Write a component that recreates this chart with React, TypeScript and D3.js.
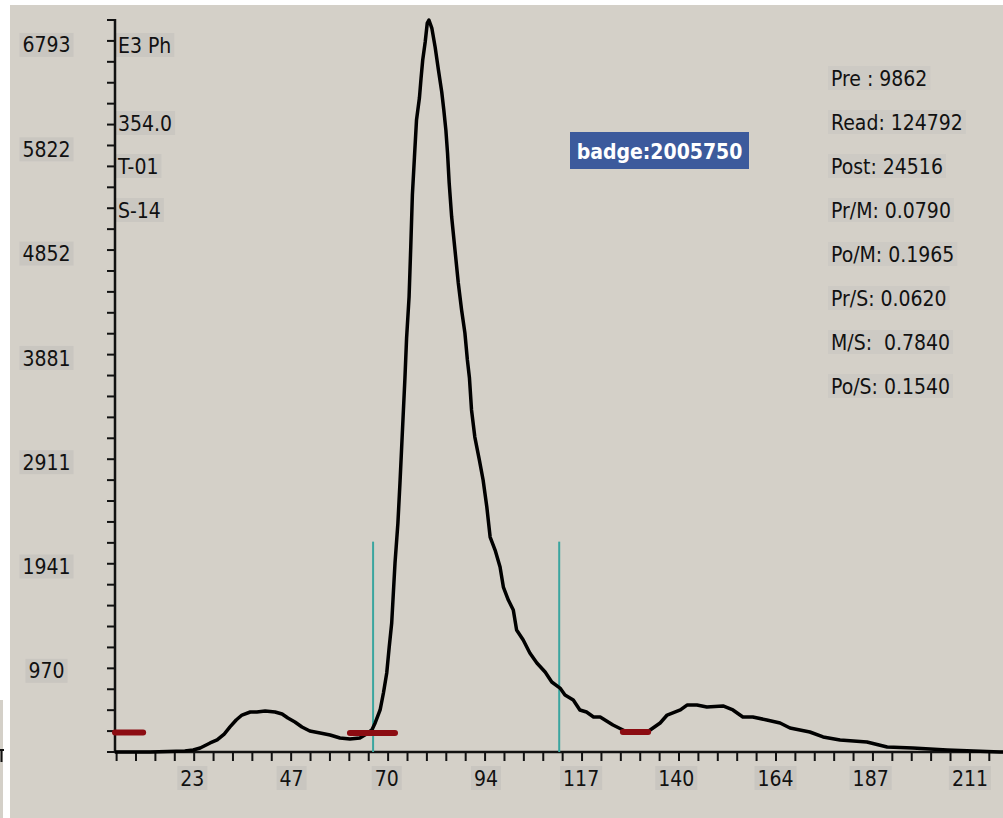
import React, { useEffect, useRef } from 'react';
import * as d3 from 'd3';

const WIDTH = 1003;
const HEIGHT = 818;

// trace: channel (x) and counts (y)
const channels = [
  4.3, 12.8, 21.2, 23.2, 24.9, 27.3, 29.0, 30.7, 32.1, 33.6, 35.0, 37.0, 38.6, 40.6, 43.0, 44.7, 46.1, 47.8,
  49.5, 51.4, 53.9, 56.3, 58.7, 61.1, 63.5, 64.7, 66.4, 67.2, 68.4, 69.2, 70.0, 70.6, 71.2, 71.6, 72.0, 72.7,
  73.2, 73.6, 74.0, 74.4, 74.8, 75.4, 75.8, 76.2, 76.7, 77.2, 77.9, 78.3, 78.7, 79.3, 79.8, 80.2, 80.9, 81.7,
  82.5, 83.3, 83.8, 84.3, 84.7, 85.1, 85.7, 86.5, 87.3, 88.1, 88.9, 89.5, 90.0, 90.5, 91.3, 92.4, 93.3, 94.2,
  95.0, 96.2, 97.4, 98.2, 99.4, 100.6, 101.4, 103.0, 104.6, 106.3, 108.3, 109.9, 111.9, 113.1, 115.1, 116.7,
  118.3, 120.0, 121.6, 124.7, 128.1, 133.0, 136.1, 137.8, 141.0, 142.6, 145.0, 147.4, 151.3, 153.7, 156.1,
  158.5, 161.9, 165.1, 167.5, 172.3, 175.5, 179.6, 186.1, 191.0, 197.2, 205.5, 218.3, 219.0
];
const counts = [
  215, 215, 224, 234, 252, 299, 327, 382, 448, 513, 559, 587, 587, 596, 587, 569, 531, 494,
  448, 410, 392, 373, 345, 336, 345, 373, 420, 485, 606, 764, 950, 1192, 1415, 1694, 1973, 2345,
  2718, 3043, 3369, 3694, 4066, 4448, 4904, 5397, 5750, 6095, 6299, 6485, 6653, 6820, 6997, 7025, 6950, 6774,
  6560, 6355, 6188, 6001, 5787, 5508, 5192, 4885, 4578, 4327, 4113, 3862, 3694, 3397, 3145, 2931, 2745, 2494,
  2215, 2094, 1936, 1750, 1629, 1536, 1350, 1257, 1136, 1043, 959, 866, 810, 745, 699, 606,
  587, 541, 541, 466, 401, 401, 485, 559, 606, 652, 652, 634, 643, 606, 541,
  541, 513, 485, 438, 401, 355, 327, 308, 262, 252, 234, 215, 215
];

const yTickLabels = [970, 1941, 2911, 3881, 4852, 5822, 6793];
const xTickLabels = [23, 47, 70, 94, 117, 140, 164, 187, 211];

// gate lines and baseline markers
const gates = [66.7, 111.7];
const gateTop = 2172;
const baseFrom = [4.3, 61.1, 127.1];
const baseTo = [11.1, 72.0, 133.2];
const baseLevel = [396, 392, 401];

const headerLabels = ['E3 Ph', '354.0', 'T-01', 'S-14'];
const stats = [
  'Pre : 9862',
  'Read: 124792',
  'Post: 24516',
  'Pr/M: 0.0790',
  'Po/M: 0.1965',
  'Pr/S: 0.0620',
  'M/S:  0.7840',
  'Po/S: 0.1540'
];
const badge = 'badge:2005750';

const FONT = '"DejaVu Sans Condensed", "Liberation Sans", sans-serif';

function boxedText(g, x, y, str, anchor, fill) {
  const t = g
    .append('text')
    .attr('x', x)
    .attr('y', y)
    .attr('dy', '0.36em')
    .attr('text-anchor', anchor)
    .style('font-family', FONT)
    .style('font-size', '21px')
    .style('white-space', 'pre')
    .style('fill', '#111')
    .text(str);
  const bb = t.node().getBBox();
  g.insert('rect', () => t.node())
    .attr('x', bb.x - 3)
    .attr('y', y - 12)
    .attr('width', bb.width + 6)
    .attr('height', 24)
    .style('fill', fill);
}

export default function App() {
  const ref = useRef(null);

  useEffect(() => {
    const svg = d3.select(ref.current);
    svg.selectAll('*').remove();

    const x = d3.scaleLinear().domain([4.3, 219]).range([115, 1003]);
    const y = d3.scaleLinear().domain([215, 7025]).range([752, 20]);

    svg.append('rect').attr('width', WIDTH).attr('height', HEIGHT).style('fill', '#d4d0c8');
    svg.append('rect').attr('width', WIDTH).attr('height', 5).style('fill', '#fff');
    svg.append('rect').attr('width', 10).attr('height', HEIGHT).style('fill', '#fff');
    svg.append('rect').attr('y', 700).attr('width', 3).attr('height', 118).style('fill', '#d4d0c8');
    svg.append('path').attr('d', 'M0,750H4M1.5,750V762').style('stroke', '#111').style('stroke-width', 2);

    const labels = svg.append('g');

    // y tick labels
    yTickLabels.forEach(v => boxedText(labels, 46.5, y(v), String(v), 'middle', '#c9c6c0'));
    // x tick labels
    xTickLabels.forEach(v => boxedText(labels, x(v), 778, String(v), 'middle', '#c9c6c0'));
    // header labels next to the y axis
    [45, 123, 166, 210].forEach((py, i) => boxedText(labels, 118, py, headerLabels[i], 'start', '#cac7c1'));
    // stats on the right
    stats.forEach((s, i) => boxedText(labels, 831, 78 + i * 44, s, 'start', '#cdcac4'));

    // badge
    svg.append('rect').attr('x', 570).attr('y', 132).attr('width', 179).attr('height', 37).style('fill', '#3c5a9c');
    svg
      .append('text')
      .attr('x', 659.5)
      .attr('y', 151)
      .attr('dy', '0.36em')
      .attr('text-anchor', 'middle')
      .style('font-family', FONT)
      .style('font-size', '21px')
      .style('font-weight', 'bold')
      .style('fill', '#fff')
      .text(badge);

    // axes
    const axes = svg.append('g').style('stroke', '#111').style('fill', 'none');
    const yTicks = d3.range(36).map(n => 215 + (n * (7025 - 215)) / 35);
    yTicks.forEach(v => {
      axes.append('line').attr('x1', 107).attr('x2', 115).attr('y1', y(v)).attr('y2', y(v)).style('stroke-width', 2);
    });
    const step = xTickLabels[xTickLabels.length - 1] / 45;
    d3.range(1, 47).forEach(k => {
      axes
        .append('line')
        .attr('x1', x(k * step))
        .attr('x2', x(k * step))
        .attr('y1', 752)
        .attr('y2', 761)
        .style('stroke-width', 2);
    });
    axes.append('line').attr('x1', 115).attr('x2', 115).attr('y1', 19).attr('y2', 753).style('stroke-width', 2.5);
    axes.append('line').attr('x1', 114).attr('x2', WIDTH).attr('y1', 752).attr('y2', 752).style('stroke-width', 2.5);

    // gates
    gates.forEach(g => {
      svg
        .append('line')
        .attr('x1', x(g))
        .attr('x2', x(g))
        .attr('y1', y(gateTop))
        .attr('y2', 752)
        .style('stroke', '#3aa59f')
        .style('stroke-width', 2);
    });

    // trace
    const pts = channels.map((c, i) => [c, counts[i]]);
    const line = d3
      .line()
      .x(d => x(d[0]))
      .y(d => y(d[1]));
    svg
      .append('path')
      .attr('d', line(pts))
      .style('fill', 'none')
      .style('stroke', '#000')
      .style('stroke-width', 3.5)
      .style('stroke-linejoin', 'round');

    // baseline markers
    baseFrom.forEach((b, i) => {
      svg
        .append('line')
        .attr('x1', x(b))
        .attr('x2', x(baseTo[i]))
        .attr('y1', y(baseLevel[i]))
        .attr('y2', y(baseLevel[i]))
        .style('stroke', '#8c0c12')
        .style('stroke-width', 6)
        .style('stroke-linecap', 'round');
    });
  }, []);

  return (
    <svg
      ref={ref}
      width={WIDTH}
      height={HEIGHT}
      style={{ position: 'absolute', left: 0, top: 0, display: 'block' }}
    />
  );
}
